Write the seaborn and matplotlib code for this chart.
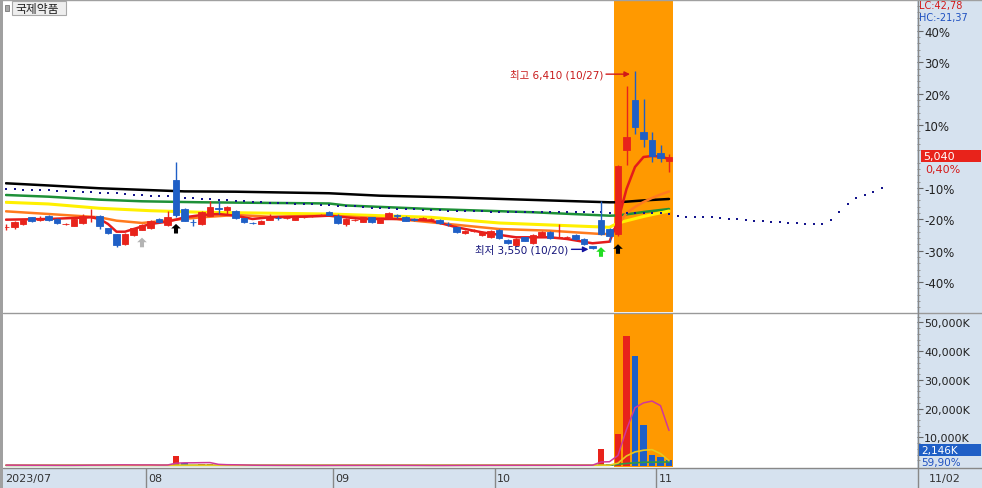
import matplotlib
matplotlib.use('Agg')
import matplotlib.pyplot as plt
import matplotlib.transforms as mtransforms
from matplotlib.patches import Rectangle
from matplotlib.lines import Line2D
from matplotlib.path import Path
import numpy as np
import pandas as pd
import seaborn as sns

sns.set_style('white')
plt.rcParams['font.family'] = ['DejaVu Sans', 'Noto Sans CJK KR']
plt.rcParams['axes.unicode_minus'] = False

# ---------------- data ----------------
stock_name = '국제약품'
opens = [3905, 3913, 3957, 4064, 4025, 4080, 4037, 3950, 3930, 3973, 4075, 4090, 3888, 3791, 3631, 3780, 3865,
         3888, 4037, 3940, 4668, 4197, 3990, 3957, 4090, 4215, 4186, 4170, 4048, 3972, 3957, 4026, 4058, 4048, 4026, 4070, 4085, 4095, 4154,
         4090, 3957, 4020, 3994, 4064, 3973, 4048, 4095, 4074, 4030, 4040, 4030, 4026, 3960, 3904, 3808, 3845, 3780, 3743,
         3860, 3705, 3620, 3743, 3652, 3769, 3833, 3735, 3740, 3780, 3716, 3600, 4026, 3876, 3796, 5149, 5952, 5428, 5305,
         5096, 4960]
highs = [3957, 4010, 4040, 4075, 4080, 4095, 4045, 3975, 4045, 4110, 4200, 4105, 3900, 3800, 3805, 3900, 3950,
         4020, 4050, 4170, 4957, 4210, 4037, 4160, 4330, 4330, 4240, 4180, 4060, 3990, 4020, 4110, 4090, 4090, 4090, 4090, 4105, 4115, 4170,
         4110, 4045, 4040, 4075, 4075, 4045, 4145, 4125, 4085, 4050, 4065, 4060, 4040, 3990, 3915, 3860, 3870, 3845, 3860,
         3870, 3715, 3725, 3750, 3790, 3845, 3845, 3957, 3770, 3790, 3725, 3610, 4330, 3890, 4900, 6167, 6410, 5963, 5438,
         5225, 5080]
lows = [3860, 3876, 3940, 3985, 4010, 4010, 3960, 3935, 3920, 3960, 3990, 3880, 3800, 3590, 3620, 3770, 3855,
        3880, 3975, 3930, 4069, 4000, 3930, 3945, 4080, 4115, 4115, 4040, 3975, 3955, 3950, 4020, 4020, 4030, 4015, 4055, 4070, 4085, 4095,
        3960, 3925, 4010, 3985, 3975, 3965, 4040, 4055, 4000, 4005, 4030, 4020, 3960, 3930, 3820, 3800, 3835, 3770, 3735,
        3720, 3640, 3610, 3680, 3640, 3760, 3720, 3725, 3730, 3705, 3625, 3550, 3780, 3670, 3765, 4908, 5400, 5190, 4947,
        4947, 4790]
closes = [3915, 3994, 4026, 4010, 4035, 4026, 3973, 3957, 4037, 4090, 4085, 3930, 3812, 3620, 3791, 3888, 3940,
          4010, 3984, 4064, 4101, 4010, 3984, 4145, 4225, 4205, 4225, 4048, 3984, 3968, 4010, 4074, 4050, 4055, 4074, 4075, 4090, 4100, 4106,
          3973, 4037, 4026, 4064, 3984, 4037, 4133, 4090, 4010, 4022, 4048, 4037, 3973, 3955, 3833, 3849, 3850, 3833, 3849,
          3727, 3652, 3716, 3689, 3780, 3833, 3727, 3743, 3745, 3716, 3636, 3565, 3796, 3769, 4895, 5348, 5509, 5321, 5053,
          5020, 5040]
volumes_k = [310, 280, 250, 220, 260, 240, 230, 200, 280, 350, 420, 300, 330, 520, 410, 300, 260,
             380, 290, 450, 3500, 900, 420, 560, 610, 380, 300, 260, 240, 220, 230, 250, 190, 180, 210, 200, 170, 180, 230,
             260, 210, 190, 220, 200, 230, 260, 190, 180, 170, 160, 170, 190, 210, 260, 220, 200, 230, 250,
             270, 230, 260, 210, 290, 240, 260, 330, 210, 230, 280, 350, 5900, 700, 11150, 45400, 38430, 14290, 3830,
             3240, 2146]

month_labels = ['2023/07', '08', '09', '10', '11']
month_first_idx = [0, 17, 39, 58, 77]
last_date_label = '11/02'

# moving-average style lines (candle index, price)
ma_black_idx = [0, 5, 11, 21, 27, 38, 44, 52, 61, 66, 71, 72, 75, 78]
ma_black = [4610, 4575, 4530, 4480, 4475, 4450, 4411, 4385, 4347, 4326, 4305, 4305, 4335, 4358]
ma_green_idx = [0, 5, 11, 16, 23, 38, 40, 50, 62, 71, 72, 75, 78]
ma_green = [4422, 4395, 4347, 4321, 4305, 4286, 4254, 4197, 4145, 4090, 4093, 4149, 4197]
ma_yellow_idx = [0, 5, 11, 17, 23, 38, 50, 58, 66, 71, 72, 75, 78]
ma_yellow = [4305, 4278, 4209, 4170, 4145, 4117, 4064, 3973, 3930, 3904, 3973, 4077, 4165]
ma_orange_idx = [0, 5, 11, 13, 16, 20, 23, 27, 31, 38, 46, 54, 58, 64, 70, 71, 72, 73, 74, 75, 76, 77, 78]
ma_orange = [4160, 4117, 4064, 4010, 3973, 4026, 4064, 4101, 4074, 4090, 4037, 3930, 3876, 3849, 3796, 3796, 3941,
             4133, 4230, 4310, 4374, 4430, 4478]
ma_red_idx = [0, 5, 10, 11, 12, 13, 14, 16, 17, 19, 20, 21, 23, 25, 27, 29, 31, 35, 38, 42, 46, 50, 53, 56, 60, 64,
              66, 69, 71, 72, 73, 74, 75, 76, 77, 78]
ma_red = [4026, 4037, 4064, 4037, 3957, 3833, 3833, 3917, 3957, 3994, 4026, 4064, 4101, 4117, 4090, 4037, 4064, 4074,
          4090, 4037, 4037, 4010, 3904, 3823, 3743, 3743, 3716, 3647, 3673, 4005, 4518, 4872, 5032, 5048, 5040, 5000]

# leading span dots (one per slot, extends 25 slots into the future)
lead_dots = [4520, 4515, 4510, 4505, 4500, 4495, 4490, 4485, 4480, 4475,
             4470, 4460, 4455, 4450, 4440, 4430, 4420, 4410, 4405, 4400,
             4390, 4380, 4375, 4365, 4360, 4340, 4335, 4325, 4320, 4310,
             4305, 4300, 4295, 4290, 4280, 4275, 4270, 4260, 4255, 4250,
             4245, 4240, 4230, 4220, 4215, 4210, 4200, 4195, 4190, 4185,
             4180, 4175, 4170, 4165, 4165, 4160, 4158, 4155, 4155, 4150,
             4150, 4145, 4145, 4145, 4145, 4145, 4145, 4145, 4145, 4145,
             4145, 4140, 4140, 4140, 4140, 4140, 4140, 4140, 4115, 4090,
             4075, 4075, 4065, 4065, 4050, 4030, 4030, 4020, 4010, 4005,
             3995, 3990, 3980, 3970, 3950, 3950, 3950, 4020, 4145, 4280,
             4370, 4420, 4475, 4530]

# volume indicator lines (index, thousand shares)
vol_yellow_idx = [0, 70, 71, 72, 73, 74, 75, 76, 77, 78]
vol_yellow = [260, 280, 300, 1000, 3500, 4900, 5500, 5700, 4300, 1850]
vol_green_idx = [0, 71, 73, 75, 78]
vol_green = [220, 250, 900, 1300, 1400]

signal_idx = [16, 20, 70, 72]
signal_price = [3660, 3881, 3507, 3555]
signal_colors = ['#B4B4B4', '#000000', '#22DD22', '#000000']

highlight_start, highlight_end = 71.5, 78.5
hi_idx, hi_price, hi_text = 74, 6410, '최고 6,410 (10/27)'
lo_idx, lo_price, lo_text = 69, 3550, '최저 3,550 (10/20)'
base_price = 5040
pct_major = [-40, -30, -20, -10, 10, 20, 30, 40]
vol_major = [10000, 20000, 30000, 40000, 50000]

# ---------------- styling ----------------
RED = '#E8231B'
BLUE = '#1F5FC6'
AXIS_BG = '#D6E2EF'
ORANGE_BG = '#FF9900'
W, H, DPI = 982, 489, 100

df = pd.DataFrame({'open': opens, 'high': highs, 'low': lows, 'close': closes, 'vol': volumes_k})
df['idx'] = np.arange(len(df))

fig = plt.figure(figsize=(W / DPI, H / DPI), dpi=DPI)
fig.patch.set_facecolor('white')

def fx(px):
    return px / W

def fy(py):
    return 1 - py / H

AX_L, AX_R = 5, 917
xlim = (-1 / 8.5, -1 / 8.5 + (AX_R - AX_L) / 8.5)

# background regions
fig.add_artist(Rectangle((fx(917), 0), 1 - fx(917), 1, transform=fig.transFigure,
                         facecolor=AXIS_BG, edgecolor='none', zorder=-5))
fig.add_artist(Rectangle((0, 0), 1, 20 / H, transform=fig.transFigure,
                         facecolor=AXIS_BG, edgecolor='none', zorder=-5))

price_ax = fig.add_axes([fx(AX_L), fy(313), (AX_R - AX_L) / W, 311 / H])
vol_ax = fig.add_axes([fx(AX_L), fy(468), (AX_R - AX_L) / W, 154 / H])
date_ax = fig.add_axes([fx(AX_L), 0, (AX_R - AX_L) / W, 20 / H])

for a in (price_ax, vol_ax, date_ax):
    a.set_xlim(*xlim)
    for s in a.spines.values():
        s.set_visible(False)
    a.set_xticks([])

# ---------------- price panel ----------------
ax = price_ax
ax.set_facecolor('white')
ax.set_ylim(2544, 7536)
ax.axvspan(highlight_start, highlight_end, color=ORANGE_BG, lw=0, zorder=1)

for xs, ys, col, lw in [(ma_black_idx, ma_black, '#000000', 1.8),
                        (ma_green_idx, ma_green, '#1E9038', 1.8),
                        (ma_yellow_idx, ma_yellow, '#FFF000', 2.2),
                        (ma_orange_idx, ma_orange, '#FF7A1E', 1.8),
                        (ma_red_idx, ma_red, '#E51B1B', 1.8)]:
    sns.lineplot(x=xs, y=ys, ax=ax, color=col, lw=lw, estimator=None, sort=False, zorder=3)

sns.scatterplot(x=np.arange(len(lead_dots)), y=lead_dots, ax=ax, color='#14148C', marker='s',
                s=2.5, linewidth=0, zorder=3.5)

up = df['close'] >= df['open']
ccol = np.where(up, RED, BLUE)
ax.vlines(df['idx'], df['low'], df['high'], colors=ccol, lw=1, zorder=4)
body_lo = np.minimum(df['open'], df['close'])
body_h = np.abs(df['close'] - df['open'])
ax.bar(df['idx'], body_h, bottom=body_lo, width=0.72, color=ccol, edgecolor=ccol, lw=0.6, zorder=5)

arrow_verts = [(0, 1), (-1, 0.05), (-0.42, 0.05), (-0.42, -1), (0.42, -1), (0.42, 0.05), (1, 0.05), (0, 1)]
arrow_marker = Path(arrow_verts, [Path.MOVETO] + [Path.LINETO] * 6 + [Path.CLOSEPOLY])
ax.scatter(signal_idx, signal_price, marker=arrow_marker, s=48, c=signal_colors, linewidths=0, zorder=6)

def off(x, y):
    return mtransforms.offset_copy(ax.transData, fig=fig, x=x, y=y, units='dots')

ax.annotate('', xy=(hi_idx, hi_price), xycoords=off(-5, -3), xytext=(hi_idx, hi_price), textcoords=off(-29, -3),
            arrowprops=dict(arrowstyle='-|>', color='#D01818', lw=1, mutation_scale=8, shrinkA=0, shrinkB=0), zorder=7)
ax.text(hi_idx, hi_price, hi_text, transform=off(-32, -3), ha='right', va='center', fontsize=7.5,
        color='#C81A1A', zorder=7)
ax.annotate('', xy=(lo_idx, lo_price), xycoords=off(-4, 0), xytext=(lo_idx, lo_price), textcoords=off(-21, 0),
            arrowprops=dict(arrowstyle='-|>', color='#1414A0', lw=1, mutation_scale=8, shrinkA=0, shrinkB=0), zorder=7)
ax.text(lo_idx, lo_price, lo_text, transform=off(-24, 0), ha='right', va='center', fontsize=7.5,
        color='#14147A', zorder=7)

ax.yaxis.tick_right()
ax.set_yticks([base_price * (1 + p / 100) for p in pct_major])
ax.set_yticklabels([f'{p}%' for p in pct_major])
ax.set_yticks([base_price * (1 + p / 100) for p in range(-48, 50, 2) if p % 10 != 0], minor=True)
ax.tick_params(axis='y', which='major', direction='out', length=4, width=0.8, color='#666',
               labelsize=8.5, labelcolor='#222', pad=1)
ax.tick_params(axis='y', which='minor', direction='out', length=2, width=0.6, color='#888')
ax.set_xlabel('')
ax.set_ylabel('')

# ---------------- volume panel ----------------
vx = vol_ax
vx.set_facecolor('white')
vx.set_ylim(-348, 53305)
vx.axvspan(highlight_start, highlight_end, color=ORANGE_BG, lw=0, zorder=1)
vprev = df['vol'].shift(1).fillna(df['vol'])
vcol = np.where(df['vol'] >= vprev, RED, BLUE)
vx.bar(df['idx'], df['vol'], width=0.72, color=vcol, lw=0, zorder=3)
vol_ma5 = df['vol'].rolling(5, min_periods=1).mean()
sns.lineplot(x=vol_green_idx, y=vol_green, ax=vx, color='#2E9A48', lw=1.2, estimator=None, sort=False, zorder=4)
sns.lineplot(x=vol_yellow_idx, y=vol_yellow, ax=vx, color='#E8C81E', lw=1.2, estimator=None, sort=False, zorder=4)
sns.lineplot(x=df['idx'], y=vol_ma5, ax=vx, color='#D0389A', lw=1.1, estimator=None, sort=False, zorder=4)
vx.yaxis.tick_right()
vx.set_yticks(vol_major)
vx.set_yticklabels([f'{v:,}K' for v in vol_major])
vx.set_yticks([v for v in range(2000, 54000, 2000) if v % 10000 != 0], minor=True)
vx.tick_params(axis='y', which='major', direction='out', length=4, width=0.8, color='#666',
               labelsize=8, labelcolor='#222', pad=1)
vx.tick_params(axis='y', which='minor', direction='out', length=2, width=0.6, color='#888')
vx.set_xlabel('')
vx.set_ylabel('')

# ---------------- date strip ----------------
date_ax.patch.set_alpha(0)
date_ax.set_ylim(0, 1)
date_ax.set_yticks([])
for lab, i0 in zip(month_labels, month_first_idx):
    if i0 > 0:
        date_ax.axvline(i0 - 0.5, color='#888', lw=1)
    date_ax.text(i0 - 0.5 + 0.25 if i0 > 0 else -0.05, 0.5, lab, ha='left', va='center', fontsize=8, color='#333')
fig.text(fx(929), fy(479), last_date_label, ha='left', va='center', fontsize=8, color='#333')

# ---------------- frame lines ----------------
for (x0, y0, x1, y1, c) in [(3, 313.5, 982, 313.5, '#999999'), (3, 468.5, 982, 468.5, '#888888'),
                            (917.5, 0, 917.5, 489, '#888888'), (0, 0.5, 982, 0.5, '#A0A0A0')]:
    fig.add_artist(Line2D([fx(x0), fx(x1)], [fy(y0), fy(y1)], transform=fig.transFigure, color=c, lw=1, zorder=10))
fig.add_artist(Rectangle((0, 0), fx(2.5), 1, transform=fig.transFigure, facecolor='#A0A0A0', edgecolor='none', zorder=10))

# title chip
fig.add_artist(Rectangle((fx(5), fy(12)), fx(4), 6 / H, transform=fig.transFigure,
                         facecolor='#A8A8A8', edgecolor='#777', lw=0.6, zorder=10))
fig.add_artist(Rectangle((fx(12), fy(16)), fx(54), 14 / H, transform=fig.transFigure,
                         facecolor='#EEEEEE', edgecolor='#A8A8A8', lw=0.8, zorder=10))
fig.text(fx(15.5), fy(9.5), stock_name, ha='left', va='center', fontsize=8.5, color='#222', zorder=11)

# right axis info labels
fig.text(fx(919), fy(6.5), 'LC:42,78', ha='left', va='center', fontsize=7, color='#D41A1A', zorder=11)
fig.text(fx(919), fy(18), 'HC:-21,37', ha='left', va='center', fontsize=7, color='#1E50C0', zorder=11)
fig.add_artist(Rectangle((fx(921), fy(163)), fx(60), 12 / H, transform=fig.transFigure,
                         facecolor=RED, edgecolor='none', zorder=10))
fig.text(fx(923), fy(157), '5,040', ha='left', va='center', fontsize=8, color='white', zorder=11)
fig.text(fx(925), fy(169.5), '0,40%', ha='left', va='center', fontsize=8, color='#D41A1A', zorder=11)
fig.add_artist(Rectangle((fx(919), fy(457)), fx(62), 12 / H, transform=fig.transFigure,
                         facecolor=BLUE, edgecolor='none', zorder=10))
fig.text(fx(921), fy(451.5), '2,146K', ha='left', va='center', fontsize=7.5, color='white', zorder=11)
fig.text(fx(921), fy(463), '59,90%', ha='left', va='center', fontsize=7.5, color='#1E50C0', zorder=11)

fig.savefig('out.png', dpi=DPI)
